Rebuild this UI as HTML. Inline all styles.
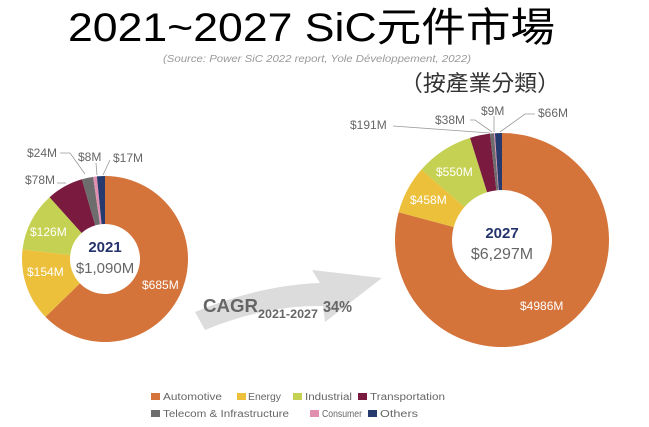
<!DOCTYPE html>
<html><head><meta charset="utf-8"><style>
body{margin:0;background:#fff;width:649px;height:427px;overflow:hidden}
svg{display:block}
text{font-family:"Liberation Sans","Noto Sans CJK TC",sans-serif}
</style></head><body>
<svg id="s" width="649" height="427" viewBox="0 0 649 427">
<text x="68" y="41" font-size="40" fill="#000" textLength="487" lengthAdjust="spacingAndGlyphs">2021~2027 SiC元件市場</text>
<text x="163" y="62" font-size="10" font-style="italic" fill="#999" textLength="308" lengthAdjust="spacingAndGlyphs">(Source: Power SiC 2022 report, Yole Développement, 2022)</text>
<text x="400" y="91" font-size="22" fill="#333" textLength="160" lengthAdjust="spacingAndGlyphs">（按產業分類）</text>
<path d="M195,312 Q260,285 320,283 L312,270 L382,278 L325,322 L323,306 Q265,305 205,330 Z" fill="#dcdcdc"/>
<text x="203" y="312" font-size="18" font-weight="bold" fill="#666" textLength="55" lengthAdjust="spacingAndGlyphs">CAGR</text>
<text x="258" y="318" font-size="12" font-weight="bold" fill="#666" textLength="60" lengthAdjust="spacingAndGlyphs">2021-2027</text>
<text x="323" y="312" font-size="16" font-weight="bold" fill="#666" textLength="29" lengthAdjust="spacingAndGlyphs">34%</text>
<g id="d1"></g><g id="d2"></g>
<g font-size="12" fill="#666">
<text x="27" y="157">$24M</text><text x="78" y="161">$8M</text><text x="113" y="162">$17M</text>
<text x="25" y="184">$78M</text>
<text x="350" y="129">$191M</text><text x="435" y="124">$38M</text><text x="481" y="115">$9M</text><text x="538" y="117">$66M</text>
</g>
<g stroke="#999" stroke-width="0.8" fill="none">
<polyline points="60,153 70,153 85,174"/><polyline points="96,163 97,175"/><polyline points="110,160 103,175"/>
<polyline points="57,183 66,183"/>
<polyline points="393,126 490,133"/><polyline points="470,120 475,120 492,132"/><polyline points="494,116 494,132"/><polyline points="535,114 525,114 500,132"/>
</g>
<g font-size="12" fill="#fff">
<text x="30" y="236">$126M</text><text x="27" y="276">$154M</text><text x="142" y="289">$685M</text>
<text x="436" y="176">$550M</text><text x="410" y="204">$458M</text><text x="520" y="310">$4986M</text>
</g>
<text x="105" y="252" text-anchor="middle" font-size="15" font-weight="bold" fill="#25336b" font-family="Liberation Serif,serif">2021</text>
<text x="105" y="273" text-anchor="middle" font-size="15" fill="#666">$1,090M</text>
<text x="502" y="238" text-anchor="middle" font-size="15" font-weight="bold" fill="#25336b" font-family="Liberation Serif,serif">2027</text>
<text x="502" y="259" text-anchor="middle" font-size="16" fill="#666">$6,297M</text>
<g font-size="10" fill="#666">
<rect x="151" y="393" width="9" height="7" fill="#d4733a"/><text x="163" y="400" textLength="59" lengthAdjust="spacingAndGlyphs">Automotive</text>
<rect x="237" y="393" width="9" height="7" fill="#ecc03a"/><text x="248" y="400" textLength="33" lengthAdjust="spacingAndGlyphs">Energy</text>
<rect x="293" y="393" width="9" height="7" fill="#c5d152"/><text x="305" y="400" textLength="47" lengthAdjust="spacingAndGlyphs">Industrial</text>
<rect x="358" y="393" width="9" height="7" fill="#7a1a3f"/><text x="370" y="400" textLength="75" lengthAdjust="spacingAndGlyphs">Transportation</text>
<rect x="151" y="410" width="9" height="7" fill="#6d6d6d"/><text x="163" y="417" textLength="126" lengthAdjust="spacingAndGlyphs">Telecom &amp; Infrastructure</text>
<rect x="310" y="410" width="9" height="7" fill="#e08fb0"/><text x="322" y="417" textLength="40" lengthAdjust="spacingAndGlyphs">Consumer</text>
<rect x="368" y="410" width="9" height="7" fill="#263a6e"/><text x="380" y="417" textLength="38" lengthAdjust="spacingAndGlyphs">Others</text>
</g>
</svg>
<script>
var C=["#d4733a","#ecc03a","#c5d152","#7a1a3f","#6d6d6d","#e08fb0","#263a6e"];
function donut(id,cx,cy,R,r,v){var t=v.reduce((a,b)=>a+b,0),a=0,g=document.getElementById(id),h="";
v.forEach(function(x,i){var a2=a+x/t*2*Math.PI;function p(rr,aa){return (cx+rr*Math.sin(aa)).toFixed(2)+","+(cy-rr*Math.cos(aa)).toFixed(2)}
var l=(a2-a)>Math.PI?1:0;
h+='<path fill="'+C[i]+'" d="M'+p(R,a)+' A'+R+','+R+' 0 '+l+' 1 '+p(R,a2)+' L'+p(r,a2)+' A'+r+','+r+' 0 '+l+' 0 '+p(r,a)+' Z"/>';a=a2;});
g.innerHTML=h;}
donut("d1",105,259,83,35,[685,154,126,78,24,8,17]);
donut("d2",502,240,107,50,[4986,458,550,191,38,9,66]);
</script>
</body></html>
